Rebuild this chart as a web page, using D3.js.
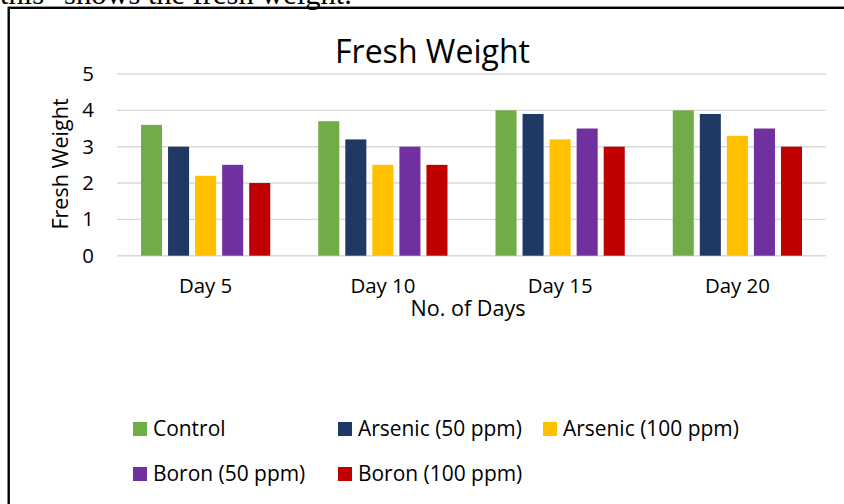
<!DOCTYPE html>
<html>
<head>
<meta charset="utf-8">
<script src="https://cdn.jsdelivr.net/npm/d3@7"></script>
<style>
  body { margin: 0; background: #fff; }
  svg { display: block; }
</style>
</head>
<body>
<svg id="chart" width="844" height="504"></svg>
<script>
// data
var days = ["Day 5", "Day 10", "Day 15", "Day 20"];
var seriesNames = ["Control", "Arsenic (50 ppm)", "Arsenic (100 ppm)", "Boron (50 ppm)", "Boron (100 ppm)"];
var control = [3.6, 3.7, 4.0, 4.0];
var arsenic50 = [3.0, 3.2, 3.9, 3.9];
var arsenic100 = [2.2, 2.5, 3.2, 3.3];
var boron50 = [2.5, 3.0, 3.5, 3.5];
var boron100 = [2.0, 2.5, 3.0, 3.0];
var yTicks = [0, 1, 2, 3, 4, 5];
var colors = ["#70AD47", "#203864", "#FFC000", "#7030A0", "#C00000"];

var seriesValues = [control, arsenic50, arsenic100, boron50, boron100];

var font = "'Open Sans', sans-serif";
var svg = d3.select("#chart");

// pick a font size so a sample string gets a given width
function fitSize(sample, target, family) {
    var t = svg.append("text").style("font-family", family).style("font-size", "20px").text(sample);
    var w = t.node().getComputedTextLength();
    t.remove();
    return 20 * target / w;
}

var tickSize = fitSize("Day 10", 65, font);
var legendSize = fitSize("Arsenic (100 ppm)", 176, font);
var axisTitleSize = fitSize("No. of Days", 115, font);
var titleSize = fitSize("Fresh Weight", 195, font);

// cut off caption line above the box
var capFont = "'Liberation Serif', 'Times New Roman', serif";
var caption = 'this "shows the fresh weight.';
svg.append("text")
    .attr("x", 0)
    .attr("y", 4)
    .style("font-family", capFont)
    .style("font-size", fitSize(caption, 352, capFont) + "px")
    .text(caption);

// outer frame (runs off the page on right/bottom)
svg.append("rect")
    .attr("x", 8.7).attr("y", 7.8)
    .attr("width", 900).attr("height", 600)
    .attr("fill", "none")
    .attr("stroke", "#000")
    .attr("stroke-width", 2.4);

var plotLeft = 117, plotRight = 826, plotTop = 74, plotBottom = 255.7;

var x0 = d3.scaleBand().domain(days).range([plotLeft, plotRight]);
var x1 = d3.scaleBand().domain(seriesNames).range([24, x0.bandwidth() - 24]).paddingInner(0.222);
var y = d3.scaleLinear().domain([0, 5]).range([plotBottom, plotTop]);

// gridlines
svg.append("g").selectAll("line")
    .data(yTicks)
    .enter().append("line")
    .attr("x1", plotLeft).attr("x2", plotRight)
    .attr("y1", function (d) { return y(d); })
    .attr("y2", function (d) { return y(d); })
    .attr("stroke", "#d9d9d9")
    .attr("stroke-width", 1.4);

// bars
var groups = svg.append("g").selectAll("g")
    .data(days)
    .enter().append("g")
    .attr("transform", function (d) { return "translate(" + x0(d) + ",0)"; });

groups.selectAll("rect")
    .data(function (d, i) {
        return seriesNames.map(function (s, j) { return { name: s, value: seriesValues[j][i], k: j }; });
    })
    .enter().append("rect")
    .attr("x", function (d) { return x1(d.name); })
    .attr("y", function (d) { return y(d.value); })
    .attr("width", x1.bandwidth())
    .attr("height", function (d) { return y(0) - y(d.value); })
    .attr("fill", function (d) { return colors[d.k]; });

// y axis labels
var yAxis = d3.axisLeft(y).tickValues(yTicks).tickSize(0).tickPadding(0).tickFormat(d3.format("d"));
var yg = svg.append("g")
    .attr("transform", "translate(94,0)")
    .call(yAxis);
yg.select(".domain").remove();
yg.selectAll("text")
    .style("font-family", font)
    .style("font-size", tickSize + "px")
    .attr("fill", "#000");

// x axis labels
var xAxis = d3.axisBottom(x0).tickSize(0).tickPadding(0);
var xg = svg.append("g")
    .attr("transform", "translate(0,278)")
    .call(xAxis);
xg.select(".domain").remove();
xg.selectAll("text")
    .style("font-family", font)
    .style("font-size", tickSize + "px")
    .attr("fill", "#000");

// chart title
svg.append("text")
    .attr("x", 432.5).attr("y", 63)
    .style("text-anchor", "middle")
    .style("font-family", font)
    .style("font-size", titleSize + "px")
    .text("Fresh Weight");

// x axis title
svg.append("text")
    .attr("x", 468).attr("y", 316)
    .style("text-anchor", "middle")
    .style("font-family", font)
    .style("font-size", axisTitleSize + "px")
    .text("No. of Days");

// y axis title
svg.append("text")
    .attr("transform", "translate(68,164) rotate(-90)")
    .style("text-anchor", "middle")
    .style("font-family", font)
    .style("font-size", axisTitleSize + "px")
    .text("Fresh Weight");

// legend
var legendX = [133, 338, 543, 133, 338];
var legendY = [422, 422, 422, 467, 467];
var legend = svg.append("g").selectAll("g")
    .data(seriesNames)
    .enter().append("g")
    .attr("transform", function (d, i) { return "translate(" + legendX[i] + "," + legendY[i] + ")"; });
legend.append("rect")
    .attr("width", 14).attr("height", 14)
    .attr("fill", function (d, i) { return colors[i]; });
legend.append("text")
    .attr("x", 20).attr("y", 14)
    .style("font-family", font)
    .style("font-size", legendSize + "px")
    .text(function (d) { return d; });
</script>
</body>
</html>
